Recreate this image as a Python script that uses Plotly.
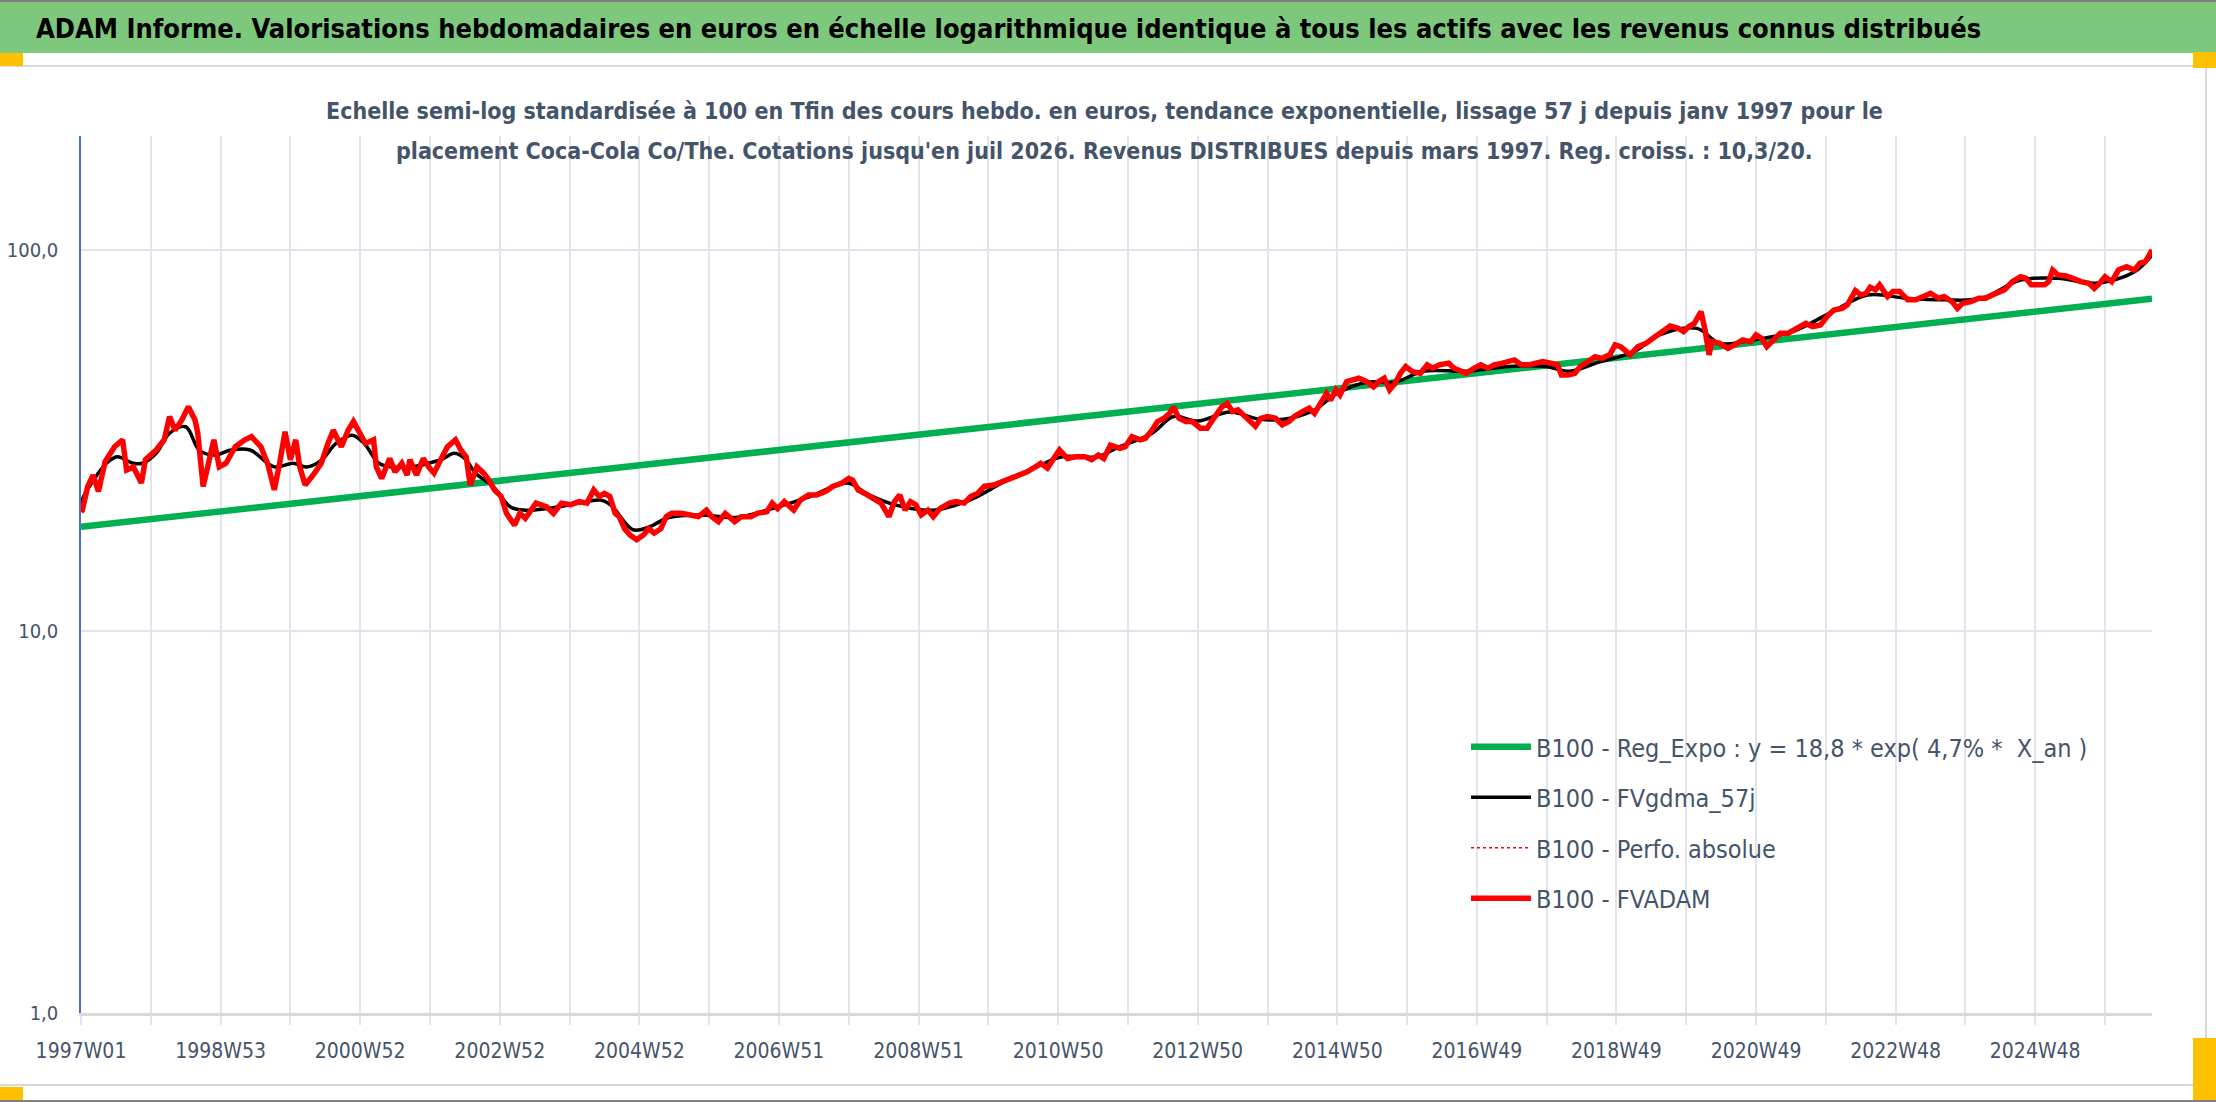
import plotly.graph_objects as go

# ---------------- data ----------------
tick_labels = ["1997W01", "1998W53", "2000W52", "2002W52", "2004W52", "2006W51",
               "2008W51", "2010W50", "2012W50", "2014W50", "2016W49", "2018W49",
               "2020W49", "2022W48", "2024W48"]
n_weeks = 1544  # weekly points from 1997W01 to juil 2026

# regression line (end points)
reg_weeks = [0, 1543]
reg_values = [18.8, 74.5]

# FVADAM (weekly valuation, base 100 at the end)
red_weeks = [0, 1, 5, 9, 13, 18, 25, 31, 34, 39, 45, 48, 56, 62, 66, 70, 75, 80, 85, 87, 91, 95, 99,
             103, 108, 115, 122, 127, 134, 139, 144, 148, 152, 156, 160, 163, 167, 174, 179, 184,
             188, 194, 199, 203, 207, 212, 218, 220, 224, 230, 234, 239, 243, 245, 250, 255, 259,
             263, 268, 273, 279, 283, 287, 290, 295, 300, 304, 308, 313, 317, 323, 327, 331, 339,
             347, 352, 358, 365, 371, 377, 382, 386, 390, 394, 398, 401, 405, 409, 414, 419, 423,
             427, 432, 436, 440, 447, 454, 460, 466, 470, 475, 480, 487, 492, 499, 504, 511, 515,
             519, 524, 531, 536, 542, 548, 555, 560, 567, 572, 575, 579, 584, 591, 596, 602, 606,
             610, 614, 618, 622, 626, 631, 635, 640, 647, 652, 658, 663, 668, 673, 680, 687, 693,
             700, 705, 711, 715, 720, 725, 729, 735, 741, 748, 753, 758, 762, 767, 774, 778, 783,
             789, 793, 798, 802, 807, 811, 814, 818, 823, 828, 834, 839, 844, 850, 854, 858, 862,
             867, 871, 875, 879, 884, 890, 895, 900, 904, 910, 915, 919, 923, 928, 931, 935, 938,
             943, 947, 952, 958, 963, 967, 971, 975, 979, 983, 987, 992, 998, 1003, 1007, 1012,
             1019, 1023, 1028, 1032, 1038, 1043, 1048, 1053, 1059, 1064, 1068, 1073, 1079, 1084,
             1089, 1095, 1100, 1103, 1108, 1113, 1117, 1123, 1128, 1133, 1139, 1143, 1147, 1150,
             1154, 1160, 1166, 1173, 1178, 1184, 1190, 1194, 1198, 1202, 1207, 1210, 1213, 1215,
             1221, 1227, 1232, 1238, 1244, 1248, 1252, 1256, 1261, 1266, 1272, 1278, 1285, 1290,
             1296, 1302, 1306, 1312, 1316, 1322, 1326, 1330, 1333, 1337, 1340, 1346, 1350, 1355,
             1361, 1367, 1374, 1378, 1384, 1388, 1394, 1398, 1402, 1408, 1414, 1419, 1424, 1428,
             1433, 1439, 1445, 1449, 1453, 1457, 1463, 1466, 1469, 1473, 1479, 1484, 1490, 1496,
             1500, 1504, 1508, 1513, 1518, 1524, 1530, 1534, 1538, 1541, 1543]
red_values = [20.6, 20.8, 24.0, 25.7, 23.3, 27.9, 30.5, 31.8, 26.5, 27.0, 24.5, 28.2, 29.9, 31.8, 36.6,
              33.7, 35.8, 38.8, 35.8, 33.1, 24.0, 28.2, 31.8, 27.0, 27.6, 30.5, 31.8, 32.4, 30.5,
              27.6, 23.5, 27.6, 33.4, 28.2, 31.8, 27.0, 24.2, 26.0, 27.6, 31.1, 33.7, 30.5, 33.7,
              35.5, 33.7, 31.1, 31.8, 27.0, 25.2, 28.4, 26.2, 27.6, 25.7, 28.2, 25.7, 28.4, 27.0,
              26.0, 28.2, 30.5, 31.8, 29.9, 28.7, 24.2, 27.0, 26.0, 24.9, 23.5, 22.6, 20.4, 19.0,
              20.4, 19.8, 21.7, 21.2, 20.4, 21.7, 21.5, 21.9, 21.7, 23.5, 22.6, 23.0, 22.6, 20.4,
              20.0, 18.6, 17.9, 17.4, 17.9, 18.6, 18.1, 18.6, 20.0, 20.4, 20.4, 20.2, 20.0, 20.8,
              20.0, 19.4, 20.4, 19.4, 20.0, 20.0, 20.4, 20.6, 21.7, 21.0, 21.9, 20.8, 22.1, 22.8,
              22.8, 23.3, 24.0, 24.5, 25.2, 24.9, 23.5, 23.0, 22.3, 21.7, 20.0, 21.9, 22.8, 20.8,
              21.9, 21.5, 20.2, 20.8, 20.0, 21.0, 21.7, 21.9, 21.7, 22.6, 23.0, 24.0, 24.2, 24.7,
              25.2, 25.7, 26.2, 27.0, 27.6, 26.8, 28.7, 29.9, 28.4, 28.7, 28.7, 28.2, 29.0, 28.4,
              30.8, 30.2, 30.5, 32.4, 31.8, 32.1, 33.7, 35.5, 36.2, 37.3, 38.8, 36.2, 35.5, 35.5,
              34.1, 34.1, 36.2, 38.8, 39.6, 37.7, 38.1, 36.6, 35.5, 34.5, 36.2, 36.6, 36.2, 34.8,
              35.5, 36.6, 37.7, 38.5, 37.3, 39.2, 42.1, 40.4, 43.0, 41.7, 45.2, 45.6, 46.1, 45.2,
              43.8, 45.2, 46.1, 43.0, 44.7, 47.5, 49.5, 48.0, 47.5, 50.0, 49.0, 50.0, 50.5, 49.0,
              48.0, 47.5, 49.0, 50.0, 49.0, 50.0, 50.5, 51.0, 51.5, 50.0, 50.0, 50.5, 51.0, 50.5,
              50.0, 47.0, 47.0, 47.5, 49.5, 51.0, 52.5, 52.0, 53.1, 56.4, 55.8, 54.7, 53.1, 55.8,
              56.9, 59.3, 61.1, 63.2, 62.3, 61.1, 63.0, 64.2, 68.9, 61.7, 53.1, 57.5, 56.9, 55.2,
              56.4, 58.1, 57.5, 59.9, 58.7, 55.8, 58.1, 60.5, 60.5, 62.3, 64.2, 63.0, 63.6, 67.6,
              69.6, 70.3, 71.8, 78.2, 76.2, 77.0, 79.8, 78.6, 81.0, 75.5, 77.8, 77.8, 74.0, 74.0,
              75.5, 77.0, 74.7, 75.5, 73.2, 70.3, 72.5, 73.2, 74.7, 74.7, 76.2, 77.0, 78.6, 82.6,
              85.1, 84.3, 81.0, 81.0, 81.0, 82.6, 88.6, 86.0, 85.5, 84.3, 82.6, 81.8, 79.3, 81.8,
              85.1, 82.6, 88.6, 90.4, 88.6, 92.3, 93.2, 97.0, 100.0]

# FVgdma_57j (smoothed valuation)
black_weeks = [0, 2, 19, 27, 39, 46, 56, 66, 78, 88, 99, 112, 126, 144, 158, 168, 179, 190, 202,
               211, 222, 232, 246, 259, 270, 278, 286, 294, 307, 320, 331, 347, 365, 387, 395,
               411, 422, 438, 462, 488, 515, 542, 571, 587, 608, 635, 662, 688, 715, 731, 757,
               771, 798, 814, 832, 856, 878, 896, 918, 936, 958, 979, 1000, 1032, 1064, 1091,
               1109, 1131, 1157, 1176, 1204, 1221, 1246, 1275, 1303, 1331, 1360, 1388, 1416,
               1445, 1473, 1501, 1530, 1543]
black_values = [21.5, 22.6, 27.6, 28.7, 27.6, 27.6, 29.3, 33.1, 34.4, 29.9, 29.0, 29.9, 29.9, 27.0,
                27.6, 27.0, 28.1, 31.1, 32.7, 31.1, 27.6, 27.0, 27.0, 27.6, 28.4, 29.3, 28.4,
                26.0, 24.0, 21.2, 20.8, 21.0, 21.5, 22.1, 21.4, 18.5, 18.7, 19.9, 20.2, 19.9,
                21.0, 22.5, 24.5, 22.8, 21.4, 20.8, 22.1, 24.7, 27.3, 28.7, 28.7, 30.2, 33.1,
                36.6, 35.6, 37.6, 36.0, 36.0, 37.9, 42.1, 45.0, 45.0, 48.1, 48.1, 49.5, 49.5,
                48.1, 50.8, 54.1, 59.9, 62.3, 56.9, 58.1, 61.1, 68.3, 76.2, 74.7, 74.0, 74.7,
                83.4, 84.3, 81.8, 87.7, 97.0]

series_names = ["B100 - Reg_Expo : y = 18,8 * exp( 4,7% *  X_an )",
                "B100 - FVgdma_57j",
                "B100 - Perfo. absolue",
                "B100 - FVADAM"]

title_text = ("ADAM Informe. Valorisations hebdomadaires en euros en échelle logarithmique "
              "identique à tous les actifs avec les revenus connus distribués")
subtitle_lines = ["Echelle semi-log standardisée à 100 en Tfin des cours hebdo. en euros, tendance "
                  "exponentielle, lissage 57 j depuis janv 1997 pour le",
                  "placement Coca-Cola Co/The. Cotations jusqu'en juil 2026. Revenus DISTRIBUES "
                  "depuis mars 1997. Reg. croiss. : 10,3/20."]

# ---------------- layout helpers ----------------
W, H = 2216, 1102
L, R, T, B = 81, 64, 136, 89
PW, PH = W - L - R, H - T - B


def px(x):
    return (x - L) / PW


def py(y):
    return (H - B - y) / PH


FONT = "DejaVu Sans Condensed, Liberation Sans Narrow, Liberation Sans, sans-serif"
TXT = "#44546A"

fig = go.Figure()
fig.add_trace(go.Scatter(x=reg_weeks, y=reg_values, mode="lines", name=series_names[0],
                         legendgroup="g1", line=dict(color="#00B050", width=6.5)))
fig.add_trace(go.Scatter(x=black_weeks, y=black_values, mode="lines", name=series_names[1],
                         legendgroup="g2", line=dict(color="#000000", width=3.5, shape="spline")))
fig.add_trace(go.Scatter(x=red_weeks, y=red_values, mode="lines", name=series_names[2],
                         legendgroup="g3", line=dict(color="#FF0000", width=1.5, dash="dot")))
fig.add_trace(go.Scatter(x=red_weeks, y=red_values, mode="lines", name=series_names[3],
                         legendgroup="g4", line=dict(color="#FF0000", width=5.5)))

grid_vals = list(range(0, n_weeks, 52))
grid_text = [tick_labels[i // 2] if i % 2 == 0 and i // 2 < len(tick_labels) else ""
             for i in range(len(grid_vals))]

fig.update_layout(
    width=W, height=H,
    margin=dict(l=L, r=R, t=T, b=B, autoexpand=False),
    paper_bgcolor="white", plot_bgcolor="white",
    font=dict(family=FONT, color=TXT),
    showlegend=True,
    legend=dict(x=px(1466), y=py(724), xanchor="left", yanchor="top",
                bgcolor="rgba(0,0,0,0)", font=dict(size=25, color=TXT, family=FONT),
                tracegroupgap=15, itemwidth=60, traceorder="grouped"),
    xaxis=dict(range=[0, n_weeks - 1], tickmode="array", tickvals=grid_vals, ticktext=grid_text,
               showgrid=True, gridcolor="#E1E4EA", gridwidth=1.5,
               showline=True, linecolor="#D9D9D9", linewidth=2.5,
               ticks="outside", ticklen=9, tickcolor="#E1E4EA", tickwidth=1.5,
               ticklabelstandoff=8,
               tickfont=dict(size=21, color=TXT, family=FONT), zeroline=False, automargin=False),
    yaxis=dict(type="log", range=[0, 2.2987], tickmode="array", tickvals=[1, 10, 100],
               ticktext=["1,0", "10,0", "100,0"], showgrid=True, gridcolor="#E1E4EA",
               gridwidth=1.5, showline=True, linecolor="#4472C4", linewidth=1.5,
               ticks="", ticklabelstandoff=17,
               tickfont=dict(size=20, color=TXT, family=FONT), zeroline=False, automargin=False),
)

shapes = [
    dict(type="rect", xref="paper", yref="paper", x0=px(0), x1=px(W), y0=py(53), y1=py(1.5),
         fillcolor="#7DC87C", line=dict(width=0), layer="below"),
    dict(type="line", xref="paper", yref="paper", x0=px(0), x1=px(W), y0=py(1), y1=py(1),
         line=dict(color="#7F7F7F", width=2)),
    dict(type="line", xref="paper", yref="paper", x0=px(0), x1=px(2206), y0=py(66), y1=py(66),
         line=dict(color="#D9D9D9", width=2)),
    dict(type="line", xref="paper", yref="paper", x0=px(2206), x1=px(2206), y0=py(66), y1=py(1085),
         line=dict(color="#D9D9D9", width=2)),
    dict(type="line", xref="paper", yref="paper", x0=px(0), x1=px(2206), y0=py(1085), y1=py(1085),
         line=dict(color="#D9D9D9", width=2)),
    dict(type="line", xref="paper", yref="paper", x0=px(0), x1=px(W), y0=py(1101), y1=py(1101),
         line=dict(color="#7F7F7F", width=2)),
    dict(type="rect", xref="paper", yref="paper", x0=px(0), x1=px(23), y0=py(66), y1=py(53),
         fillcolor="#FFC000", line=dict(width=0)),
    dict(type="rect", xref="paper", yref="paper", x0=px(2193), x1=px(W), y0=py(68), y1=py(52),
         fillcolor="#FFC000", line=dict(width=0)),
    dict(type="rect", xref="paper", yref="paper", x0=px(0), x1=px(23), y0=py(1100), y1=py(1087),
         fillcolor="#FFC000", line=dict(width=0)),
    dict(type="rect", xref="paper", yref="paper", x0=px(2193), x1=px(W), y0=py(1100), y1=py(1038),
         fillcolor="#FFC000", line=dict(width=0)),
]
fig.update_layout(shapes=shapes)

fig.add_annotation(text=f"<b>{title_text}</b>", xref="paper", yref="paper", x=px(34), y=py(29),
                   xanchor="left", yanchor="middle", showarrow=False,
                   font=dict(size=27, color="#000000", family=FONT))
for line_text, line_y in zip(subtitle_lines, [111, 151]):
    fig.add_annotation(text=f"<b>{line_text}</b>", xref="paper", yref="paper", x=px(1104),
                       y=py(line_y), xanchor="center", yanchor="middle", showarrow=False,
                       font=dict(size=23, color=TXT, family=FONT))

fig.write_html("out.html", config={"displayModeBar": False},
               post_script="document.body.style.margin='0';")
